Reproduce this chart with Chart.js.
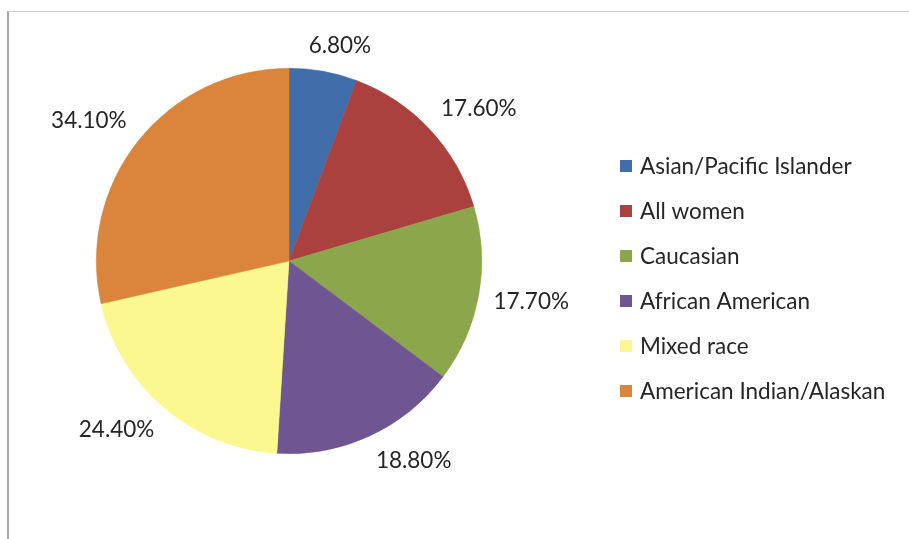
<!DOCTYPE html>
<html>
<head>
<meta charset="utf-8">
<script src="https://cdn.jsdelivr.net/npm/chart.js@4"></script>
<style>
  html, body { margin: 0; padding: 0; background: #fff; }
  #wrap { position: relative; width: 909px; height: 539px; overflow: hidden; }
  #frame { position: absolute; left: 7px; top: 11px; right: -2px; bottom: -2px;
           border-top: 1px solid #c9c9c9; border-left: 2px solid #a8a8a8; }
  #chart { position: absolute; left: 0; top: 0; }
</style>
</head>
<body>
<div id="wrap">
  <div id="frame"></div>
  <canvas id="chart" width="909" height="539"></canvas>
</div>
<script>
// dados do gráfico
const categorias = ['Asian/Pacific Islander', 'All women', 'Caucasian', 'African American', 'Mixed race', 'American Indian/Alaskan'];
const valores = [6.8, 17.6, 17.7, 18.8, 24.4, 34.1];
const rotulos = ['6.80%', '17.60%', '17.70%', '18.80%', '24.40%', '34.10%'];
const cores = ['#3F6EAA', '#AA413F', '#8BA64B', '#6F5592', '#FAF88F', '#DB843C'];

const fonte = '22.5px Lato, "Open Sans", sans-serif';

// rótulos de porcentagem fora das fatias
const rotulosPlugin = {
    id: 'rotulos',
    afterDatasetsDraw(chart) {
        const ctx = chart.ctx;
        const meta = chart.getDatasetMeta(0);
        ctx.save();
        ctx.font = fonte;
        ctx.fillStyle = '#262626';
        ctx.textAlign = 'center';
        ctx.textBaseline = 'middle';
        meta.data.forEach((arc, i) => {
            const mid = (arc.startAngle + arc.endAngle) / 2;
            const r = arc.outerRadius + 15;
            const ax = arc.x + Math.cos(mid) * r;
            const ay = arc.y + Math.sin(mid) * r;
            const w = ctx.measureText(rotulos[i]).width;
            const h = 22;
            const kx = Math.max(-1, Math.min(1, Math.cos(mid) * 2.5));
            const ky = Math.max(-1, Math.min(1, Math.sin(mid) * 2));
            ctx.fillText(rotulos[i], ax + kx * w / 2, ay + ky * h / 2);
        });
        ctx.restore();
    }
};

// legenda à direita
const legendaPlugin = {
    id: 'legenda',
    afterDraw(chart) {
        const ctx = chart.ctx;
        const x0 = 620, y0 = 166, passo = 45;
        ctx.save();
        ctx.font = fonte;
        ctx.textBaseline = 'middle';
        chart.data.labels.forEach((lab, i) => {
            const y = y0 + i * passo;
            ctx.fillStyle = chart.data.datasets[0].backgroundColor[i];
            ctx.fillRect(x0, y - 6, 12, 12);
            ctx.fillStyle = '#262626';
            ctx.fillText(lab, x0 + 20, y + 1);
        });
        ctx.restore();
    }
};

const ctx = document.getElementById('chart').getContext('2d');

let graficoPizza = new Chart(ctx, {
    type: 'pie',
    data: {
        labels: categorias,
        datasets: [{
            data: valores,
            backgroundColor: cores,
            borderColor: cores,
            borderWidth: 0.5
        }]
    },
    options: {
        responsive: false,
        animation: false,
        layout: {
            padding: { left: 96, right: 427, top: 68, bottom: 85 }
        },
        plugins: {
            legend: { display: false },
            tooltip: { enabled: false }
        }
    },
    plugins: [rotulosPlugin, legendaPlugin]
});
</script>
</body>
</html>
